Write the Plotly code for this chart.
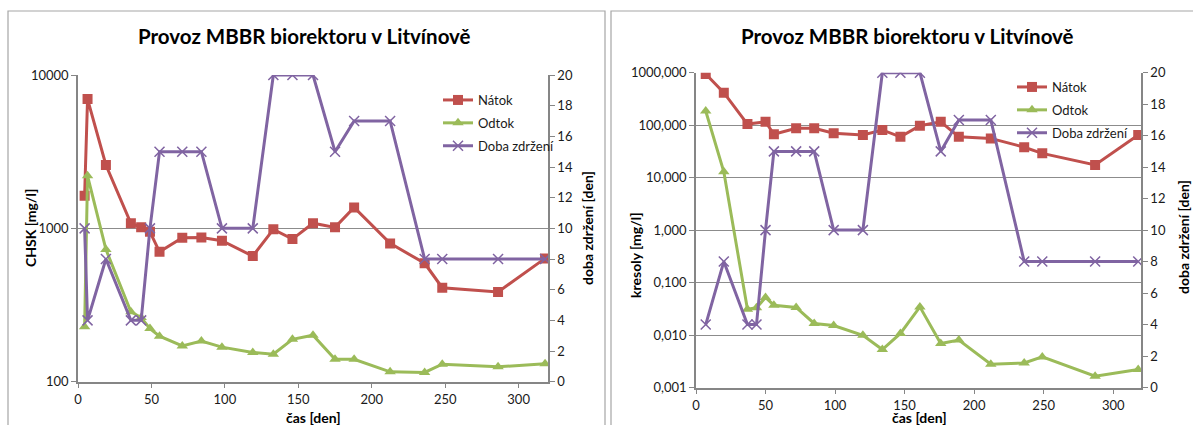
import plotly.graph_objects as go

# ---------------- data ----------------
# Left chart: CHSK
t_left = [4.5, 6.5, 19, 36, 43, 49, 55.5, 71, 84, 98, 119, 133, 146, 160, 175, 188, 212.5, 236, 248, 286, 318]
chsk_natok = [1630, 6970, 2590, 1080, 1015, 950, 703, 868, 870, 830, 659, 985, 851, 1080, 1015, 1370, 798, 592, 410, 385, 637]
chsk_odtok = [228, 2200, 729, 286, 262, 222, 198, 171, 184, 168, 155, 151, 189, 201, 140, 140, 116, 115, 130, 125, 131]
doba_left = [10, 4, 8, 4, 4, 10, 15, 15, 15, 10, 10, 20, 20, 20, 15, 17, 17, 8, 8, 8, 8]

# Right chart: kresoly
t_right_natok = [7, 20, 37, 50, 56, 72, 85, 99, 120, 134, 147, 161, 176, 189, 212, 236, 249, 287, 318]
kres_natok = [944, 416, 105, 116, 67, 87, 87, 70, 65, 81, 60, 97.5, 116, 60, 56, 38, 29, 17.4, 65]
t_right = [7, 20, 37, 43.5, 50, 56, 72, 85, 99, 120, 134, 147, 161, 176, 189, 212, 236, 249, 287, 318]
kres_odtok = [186, 12.9, 0.031, 0.033, 0.052, 0.037, 0.0335, 0.0166, 0.0152, 0.0099, 0.0053, 0.0107,
              0.0344, 0.0069, 0.0080, 0.00278, 0.00294, 0.00383, 0.00164, 0.0022]
doba_right = [4, 8, 4, 4, 10, 15, 15, 15, 10, 10, 20, 20, 20, 15, 17, 17, 8, 8, 8, 8]

title_text = "Provoz MBBR biorektoru v Litvínově"
x_ticks = [0, 50, 100, 150, 200, 250, 300]
left_y_ticks = [100, 1000, 10000]
left_y_labels = ["100", "1000", "10000"]
right_y_ticks = [0.001, 0.01, 0.1, 1, 10, 100, 1000]
right_y_labels = ["0,001", "0,010", "0,100", "1,000", "10,000", "100,000", "1000,000"]
y2_ticks = list(range(0, 21, 2))

# ---------------- styling ----------------
W, H = 1193, 425
RED = "#C0504D"
GREEN = "#9BBB59"
PURPLE = "#8064A2"
AXIS = "#868686"
GRID = "#8c8c8c"
FONT = "Lato"
TXT = "#1a1a1a"


def px_x(p):
    return p / W


def px_y(p):
    return 1 - p / H


fig = go.Figure()


def add_series(xs, ys, name, color, symbol, xa, ya, legend, size=9):
    if symbol == "x-thin":
        marker = dict(symbol="x-thin", size=size, color=color, line=dict(width=1.5, color=color))
    else:
        marker = dict(symbol=symbol, size=size, color=color, line=dict(width=0))
    fig.add_trace(go.Scatter(
        x=xs, y=ys, name=name, mode="lines+markers",
        line=dict(color=color, width=3), marker=marker,
        xaxis=xa, yaxis=ya, legend=legend, legendgroup=legend + name,
    ))


add_series(t_left, chsk_natok, "Nátok", RED, "square", "x", "y", "legend", 10)
add_series(t_left, chsk_odtok, "Odtok", GREEN, "triangle-up", "x", "y", "legend", 10)
add_series(t_left, doba_left, "Doba zdržení", PURPLE, "x-thin", "x", "y2", "legend", 10)

add_series(t_right_natok, kres_natok, "Nátok", RED, "square", "x3", "y3", "legend2", 10)
add_series(t_right, kres_odtok, "Odtok", GREEN, "triangle-up", "x3", "y3", "legend2", 10)
add_series(t_right, doba_right, "Doba zdržení", PURPLE, "x-thin", "x3", "y4", "legend2", 10)

tickfont = dict(family=FONT, size=13, color=TXT)
titlefont = dict(family=FONT, size=14, color="#000000", weight="bold")

xcommon = dict(range=[0, 320], tickvals=x_ticks, showgrid=False, zeroline=False,
               showline=True, linecolor=AXIS, linewidth=1.5, ticks="outside", ticklen=5,
               tickcolor=AXIS, tickfont=tickfont, fixedrange=True, automargin=False)
y2common = dict(range=[0, 20], tickvals=y2_ticks, showgrid=False, zeroline=False,
                showline=True, linecolor=AXIS, linewidth=1.5, ticks="outside", ticklen=5,
                tickcolor=AXIS, tickfont=tickfont, side="right", automargin=False)
ylogcommon = dict(type="log", showgrid=True, gridcolor=GRID, gridwidth=1, zeroline=False,
                  showline=True, linecolor=AXIS, linewidth=1.5, ticks="outside", ticklen=5,
                  tickcolor=AXIS, tickfont=tickfont, automargin=False)

L_dom_x = [px_x(78), px_x(548)]
L_dom_y = [px_y(381.7), px_y(75)]
R_dom_x = [px_x(696), px_x(1141)]
R_dom_y = [px_y(387.5), px_y(72.7)]

fig.update_layout(
    width=W, height=H,
    margin=dict(l=0, r=0, t=0, b=0, autoexpand=False),
    paper_bgcolor="white", plot_bgcolor="rgba(0,0,0,0)",
    font=dict(family=FONT, color=TXT),
    xaxis=dict(domain=L_dom_x, anchor="y", **xcommon),
    yaxis=dict(domain=L_dom_y, anchor="x", range=[2, 4],
               tickvals=left_y_ticks, ticktext=left_y_labels, **ylogcommon),
    yaxis2=dict(anchor="x", overlaying="y", **y2common),
    xaxis3=dict(domain=R_dom_x, anchor="y3", **xcommon),
    yaxis3=dict(domain=R_dom_y, anchor="x3", range=[-3, 3],
                tickvals=right_y_ticks, ticktext=right_y_labels, **ylogcommon),
    yaxis4=dict(anchor="x3", overlaying="y3", **y2common),
    legend=dict(x=px_x(438), y=px_y(85), xanchor="left", yanchor="top",
                bgcolor="rgba(0,0,0,0)", font=dict(family=FONT, size=13, color=TXT),
                tracegroupgap=3, traceorder="grouped", itemwidth=30),
    legend2=dict(x=px_x(1012), y=px_y(72), xanchor="left", yanchor="top",
                 bgcolor="rgba(0,0,0,0)", font=dict(family=FONT, size=13, color=TXT),
                 tracegroupgap=3, traceorder="grouped", itemwidth=30),
    showlegend=True,
)

# panel borders
fig.add_shape(type="rect", xref="paper", yref="paper",
              x0=px_x(8), x1=px_x(605), y0=px_y(440), y1=px_y(11),
              line=dict(color="#a6a6a6", width=1.2), fillcolor="rgba(0,0,0,0)", layer="below")
fig.add_shape(type="rect", xref="paper", yref="paper",
              x0=px_x(611), x1=px_x(1205), y0=px_y(440), y1=px_y(11),
              line=dict(color="#a6a6a6", width=1.2), fillcolor="rgba(0,0,0,0)", layer="below")

# chart titles
for cx in (304, 907):
    fig.add_annotation(text=title_text, xref="paper", yref="paper",
                       x=px_x(cx), y=px_y(36), xanchor="center", yanchor="middle",
                       showarrow=False,
                       font=dict(family=FONT, size=20.5, color="#000000", weight="bold"))

# x axis titles
for cx in (313, 919):
    fig.add_annotation(text="čas [den]", xref="paper", yref="paper",
                       x=px_x(cx), y=px_y(417), xanchor="center", yanchor="middle",
                       showarrow=False, font=titlefont)

# vertical axis titles
for text, cx, cy in [("CHSK [mg/l]", 30, 228),
                     ("doba zdržení [den]", 587, 228),
                     ("kresoly [mg/l]", 635, 255),
                     ("doba zdržení [den]", 1183, 237)]:
    fig.add_annotation(text=text, xref="paper", yref="paper",
                       x=px_x(cx), y=px_y(cy), xanchor="center", yanchor="middle",
                       textangle=-90, showarrow=False, font=titlefont)

fig.write_html(
    "out.html",
    config={"displayModeBar": False},
    post_script="document.body.style.margin='0';document.body.style.overflow='hidden';",
)
